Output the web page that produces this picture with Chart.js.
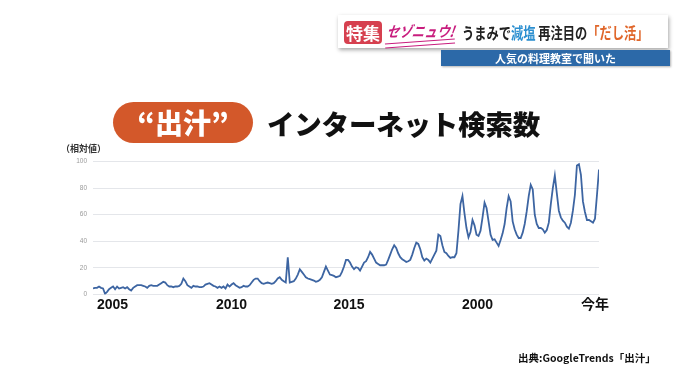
<!DOCTYPE html>
<html>
<head>
<meta charset="utf-8">
<script src="https://cdn.jsdelivr.net/npm/chart.js@4.4.1/dist/chart.umd.min.js"></script>
<style>
  html, body { margin: 0; padding: 0; background: #ffffff; }
  #wrap { position: relative; width: 680px; height: 382px; overflow: hidden; background: #ffffff;
          font-family: 'Noto Sans CJK JP', 'Noto Sans', sans-serif; }
  #c { position: absolute; left: 0; top: 0; }
  .abs { position: absolute; white-space: nowrap; }
  #banner { left: 338px; top: 15px; width: 330px; height: 33px; background: #fff;
            box-shadow: 1px 2px 4px rgba(0,0,0,0.35); }
  #tokushu { left: 344px; top: 21px; width: 38px; height: 23px; background: #d6404f; border-radius: 4px;
             color: #fff; font-weight: 700; font-size: 17px; line-height: 23px; text-align: center; }
  #sezon { left: 387px; top: 19px; color: #c81d7e; font-weight: 700; font-style: italic; font-size: 15px;
           line-height: 24px; transform-origin: left center; transform: scaleX(0.84) skewX(-10deg); }
  #sezonline { left: 385px; top: 41px; width: 70px; height: 3px; border-top: 1px solid #c81d7e;
               border-bottom: 1px solid #c81d7e; transform: rotate(-4deg); }
  #headline { left: 462px; top: 20px; color: #222; font-weight: 700; font-size: 15.5px; line-height: 24px;
              transform-origin: left center; transform: scaleX(0.79); }
  #blue { left: 441px; top: 50px; width: 229px; height: 16px; background: #2c69a8; color: #fff;
          font-weight: 700; font-size: 11px; line-height: 16px; text-align: center;
          box-shadow: 1px 1px 2px rgba(0,0,0,0.3); }
  #pill { left: 113px; top: 102px; width: 140px; height: 41px; background: #d3582a; border-radius: 21px;
          color: #fff; font-weight: 900; font-size: 28px; line-height: 41px; text-align: center; }
  #title { left: 267px; top: 104px; color: #111; font-weight: 900; font-size: 27.5px; line-height: 38px; letter-spacing: -0.2px; }
  #unit { left: 61px; top: 143px; color: #333; font-weight: 700; font-size: 9px; line-height: 12px; }
  #source { left: 518px; top: 351px; color: #111; font-weight: 700; font-size: 10.5px; line-height: 14px; }
</style>
</head>
<body>
<div id="wrap">
  <canvas id="c" width="680" height="382"></canvas>
  <div class="abs" id="banner"></div>
  <div class="abs" id="tokushu">特集</div>
  <div class="abs" id="sezon">セゾニュウ!</div>
  <div class="abs" id="sezonline"></div>
  <div class="abs" id="headline">うまみで<span style="color:#2b8fd0">減塩</span> 再注目の<span style="color:#e0662a">「だし活」</span></div>
  <div class="abs" id="blue">人気の料理教室で聞いた</div>
  <div class="abs" id="pill">“出汁”</div>
  <div class="abs" id="title">インターネット検索数</div>
  <div class="abs" id="unit">（相対値）</div>
  <div class="abs" id="source">出典:GoogleTrends「出汁」</div>
</div>
<script>
// Monthly relative search interest for "出汁", starting Jan 2004 (index 0)
const searchIndex = [
  4.5,5,5,6,5,4.5,0.5,2,4,5,6,4,
  6,4.5,5,5.5,4.5,5.5,4,3,5,6,7,7,
  7,6.5,6,5,6.5,7,6.5,6.5,6.5,7.5,8.5,9.5,
  9,7,6,6,5.5,6,6,6.5,8,12,10,7,
  6,5,6.5,6,6,5.5,5.5,6,7.5,8,8.5,7.5,
  6.5,6,5,6,5,6,4.5,7.5,6,7.5,8.5,7,
  6,5,5.5,6.5,6,6,7,9,11,12,12,10,
  8.5,8,8.5,9,8.5,8,8.5,10,12,13,11,10,
  9,28,9,9.5,10,12,15,19,17,15,13,12,
  11.5,11,10.5,9.5,10,11,13,17,21,18,15,14.5,
  14,13,13.5,14,17,21,26,26,24,21,19,20.5,
  20,18,21,24,25,28,32,30,27,24,23,22,
  22,22,22.5,26,30,34,37,35,31,28,26.5,25.5,
  24.5,25,26,30,35,39,38,34,28,25.5,27,26,
  24,27,30,33,45,44,37,32,31,29,27.5,28,
  28,31,48,68,74,61,50,43,47,56,52,45,
  44,48,58,69,65,55,45,41,41.5,39,36.5,41,
  46,53,65,74,70,55,49,45,42.5,42.5,46.5,53,
  62.5,74,82.5,79,60,53,50,50,49,46.5,48.5,54,
  68,80,89.5,76,63,58,55.5,54,51,49.5,54,63,
  75,97,98,90,70,62,56,56,55,54,57,75,
  94
];
const monthIndex = searchIndex.map((v, i) => i);
const xTickValues = [9.7, 69, 127.5, 191.5, 250];
const xTickLabels = ['2005', '2010', '2015', '2000', '今年'];
const yTickValues = [0, 20, 40, 60, 80, 100];

const points = monthIndex.map((m, i) => ({ x: m, y: searchIndex[i] }));

new Chart(document.getElementById('c'), {
  type: 'line',
  data: {
    datasets: [{
      data: points,
      borderColor: '#3d65a2',
      borderWidth: 1.8,
      pointRadius: 0,
      tension: 0,
      fill: false
    }]
  },
  options: {
    responsive: false,
    animation: false,
    events: [],
    layout: { padding: { top: 161.5, right: 81, left: 0, bottom: 0 } },
    plugins: { legend: { display: false }, tooltip: { enabled: false }, title: { display: false } },
    scales: {
      x: {
        type: 'linear',
        min: 0,
        max: searchIndex.length - 1,
        grid: { display: false, drawTicks: false },
        border: { display: false },
        afterFit: (s) => { s.height = 382 - 294.5; },
        afterBuildTicks: (s) => { s.ticks = xTickValues.map(v => ({ value: v })); },
        ticks: {
          autoSkip: false,
          maxRotation: 0,
          padding: 2,
          color: '#111',
          font: { family: "'Liberation Sans', 'Noto Sans CJK JP', sans-serif", size: 14, weight: 'bold' },
          callback: (v, i) => xTickLabels[i]
        }
      },
      y: {
        min: 0,
        max: 100,
        afterFit: (s) => { s.width = 93; },
        afterBuildTicks: (s) => { s.ticks = yTickValues.map(v => ({ value: v })); },
        grid: { color: '#e4e6ea', lineWidth: 1, drawTicks: false },
        border: { display: false },
        ticks: {
          padding: 6,
          color: '#9a9a9a',
          font: { family: "'Liberation Sans', sans-serif", size: 6.5 }
        }
      }
    }
  }
});
</script>
</body>
</html>
